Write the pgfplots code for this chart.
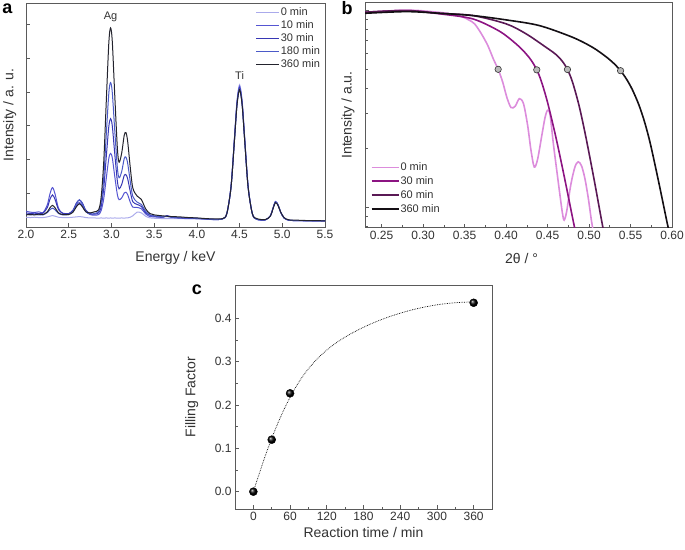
\documentclass[border=0pt]{standalone}
\usepackage{fontspec}
\setmainfont{Liberation Sans}
\usepackage{pgfplots}
\usepackage{pgfplotstable}
\pgfplotsset{compat=1.18}

\definecolor{c0}{RGB}{170,170,235}
\definecolor{c10}{RGB}{85,85,210}
\definecolor{c30}{RGB}{55,55,180}
\definecolor{c180}{RGB}{75,90,200}
\definecolor{c360}{RGB}{35,35,45}
\definecolor{p0}{RGB}{220,140,220}
\definecolor{p30}{RGB}{140,20,130}
\definecolor{p60}{RGB}{90,25,85}
\definecolor{p360}{RGB}{20,15,20}
\definecolor{axgray}{RGB}{90,90,90}
\definecolor{txt}{RGB}{50,50,50}

% EDX spectra
\pgfplotstableread{
x     c0    c10   c30   c180  c360
2.00  0.29  0.47  0.42  0.38  0.36
2.05  0.28  0.44  0.40  0.36  0.37
2.10  0.29  0.43  0.41  0.37  0.36
2.15  0.28  0.45  0.40  0.36  0.38
2.20  0.28  0.43  0.41  0.36  0.37
2.25  0.30  0.66  0.58  0.43  0.45
2.28  0.32  0.98  0.82  0.51  0.57
2.31  0.34  1.17  0.95  0.56  0.64
2.34  0.32  0.98  0.82  0.51  0.57
2.38  0.29  0.56  0.52  0.40  0.42
2.43  0.28  0.40  0.41  0.36  0.37
2.50  0.28  0.39  0.40  0.37  0.37
2.55  0.29  0.47  0.50  0.47  0.44
2.59  0.30  0.64  0.71  0.69  0.60
2.625 0.31  0.73  0.80  0.81  0.69
2.66  0.30  0.64  0.71  0.69  0.60
2.70  0.28  0.46  0.50  0.47  0.45
2.75  0.27  0.37  0.40  0.38  0.42
2.80  0.27  0.35  0.38  0.40  0.45
2.85  0.26  0.37  0.42  0.46  0.51
2.88  0.27  0.49  0.61  0.73  0.89
2.91  0.26  0.84  1.15  1.46  1.93
2.94  0.27  1.45  2.09  2.75  3.74
2.97  0.26  2.04  2.99  3.98  5.48
2.99  0.27  2.18  3.21  4.28  5.90
3.01  0.26  2.05  3.00  3.99  5.50
3.04  0.27  1.48  2.14  2.82  3.85
3.07  0.26  0.95  1.35  1.74  2.32
3.09  0.26  0.81  1.13  1.46  1.92
3.12  0.27  0.86  1.26  1.64  2.19
3.15  0.26  1.01  1.53  2.03  2.72
3.17  0.27  1.03  1.55  2.07  2.80
3.19  0.27  0.96  1.43  1.89  2.54
3.22  0.29  0.74  1.06  1.36  1.78
3.25  0.33  0.59  0.75  0.91  1.16
3.30  0.44  0.58  0.67  0.74  0.92
3.35  0.42  0.54  0.61  0.67  0.82
3.40  0.32  0.39  0.43  0.47  0.54
3.45  0.27  0.31  0.35  0.36  0.40
3.50  0.26  0.30  0.32  0.33  0.36
3.60  0.25  0.29  0.29  0.30  0.33
3.65  0.25  0.34  0.33  0.31  0.32
3.70  0.25  0.30  0.29  0.29  0.31
3.80  0.25  0.27  0.27  0.27  0.30
3.90  0.24  0.26  0.26  0.27  0.28
4.00  0.24  0.25  0.26  0.25  0.27
4.10  0.23  0.24  0.24  0.24  0.25
4.20  0.22  0.22  0.23  0.22  0.24
4.30  0.24  0.24  0.24  0.24  0.25
4.35  0.40  0.39  0.39  0.39  0.39
4.40  1.22  1.20  1.19  1.18  1.18
4.44  2.65  2.62  2.59  2.57  2.56
4.47  3.75  3.70  3.66  3.63  3.62
4.50  4.22  4.17  4.12  4.09  4.07
4.53  3.75  3.70  3.66  3.63  3.62
4.56  2.65  2.62  2.59  2.57  2.56
4.60  1.22  1.20  1.19  1.18  1.18
4.65  0.40  0.39  0.39  0.39  0.39
4.70  0.24  0.23  0.23  0.23  0.25
4.80  0.21  0.21  0.21  0.21  0.22
4.86  0.33  0.33  0.33  0.33  0.32
4.89  0.55  0.55  0.55  0.54  0.53
4.92  0.76  0.75  0.75  0.74  0.72
4.95  0.66  0.66  0.65  0.65  0.64
4.98  0.45  0.45  0.45  0.44  0.45
5.02  0.27  0.27  0.27  0.27  0.28
5.08  0.20  0.20  0.20  0.20  0.21
5.20  0.19  0.19  0.19  0.19  0.20
5.30  0.19  0.18  0.19  0.18  0.19
5.40  0.18  0.18  0.18  0.18  0.19
5.50  0.18  0.18  0.18  0.18  0.18
}\edx

\pgfplotsset{
  panel/.style={
    scale only axis,
    axis line style={axgray, line width=0.8pt},
    tick style={axgray, line width=0.6pt},
    tick align=inside,
    tick pos=left,
    major tick length=4pt,
    minor tick length=2.5pt,
    tick label style={font=\fontsize{12}{12}\selectfont, text=txt},
    label style={font=\fontsize{14}{14}\selectfont, text=txt},
    /pgf/number format/assume math mode=true,
    legend cell align=left,
  },
}

\begin{document}
\begin{tikzpicture}
\useasboundingbox (0,0) rectangle (685pt,-549pt);

% ---- a: EDX
\begin{axis}[panel,
  at={(26pt,-227pt)}, anchor=south west,
  width=299pt, height=224pt,
  xmin=2, xmax=5.5, ymin=0, ymax=6.64,
  xtick={2,2.5,...,5.5},
  xticklabel style={/pgf/number format/.cd, fixed, fixed zerofill, precision=1},
  ytick={0,...,6}, yticklabel=\empty,
  xlabel={Energy / keV},
  ylabel={Intensity / a. u.},
  xlabel style={at={(axis description cs:0.5,-0.138)}, anchor=center},
  ylabel style={at={(axis description cs:-0.054,0.5)}, anchor=center},
  legend image code/.code={\draw[#1] (0pt,0pt) -- (23pt,0pt);},
  legend style={at={(axis description cs:0.768,0.986)}, anchor=north west,
    draw=none, fill=none, inner sep=0pt, row sep=0.6pt,
    font=\fontsize{11}{11}\selectfont, text=txt,
    nodes={inner sep=1pt, text height=8pt, text depth=2.5pt}},
]
\addplot[c0, line width=1pt, smooth] table[x=x, y=c0] {\edx};
\addlegendentry{0 min}
\addplot[c10, line width=1pt, smooth] table[x=x, y=c10] {\edx};
\addlegendentry{10 min}
\addplot[c30, line width=1pt, smooth] table[x=x, y=c30] {\edx};
\addlegendentry{30 min}
\addplot[c180, line width=1pt, smooth] table[x=x, y=c180] {\edx};
\addlegendentry{180 min}
\addplot[c360, line width=1pt, smooth] table[x=x, y=c360] {\edx};
\addlegendentry{360 min}
\node[font=\fontsize{11}{11}\selectfont, text=txt] at (axis cs:2.99,6.22) {Ag};
\node[font=\fontsize{11}{11}\selectfont, text=txt] at (axis cs:4.5,4.5) {Ti};
\end{axis}

% ---- b: reflectivity
\begin{axis}[panel,
  at={(365pt,-227.5pt)}, anchor=south west,
  width=307pt, height=225pt,
  xmin=0.23, xmax=0.60, ymode=log, ymin=0.79, ymax=10.9,
  xtick={0.25,0.30,...,0.61}, minor x tick num=1,
  xticklabel style={/pgf/number format/.cd, fixed, fixed zerofill, precision=2},
  yticklabel=\empty,
  xlabel={2θ / °},
  ylabel={Intensity / a.u.},
  xlabel style={at={(axis description cs:0.51,-0.138)}, anchor=center},
  ylabel style={at={(axis description cs:-0.055,0.5)}, anchor=center},
  legend image code/.code={\draw[#1] (0pt,0pt) -- (27pt,0pt);},
  legend style={at={(axis description cs:0.0186,0.297)}, anchor=north west,
    draw=none, fill=none, inner sep=0pt, row sep=0.9pt,
    font=\fontsize{11}{11}\selectfont, text=txt,
    nodes={inner sep=1pt, text height=8.5pt, text depth=2.5pt}},
]
\addplot[p0, line width=1.6pt, smooth] coordinates {
(0.230,9.6) (0.250,9.8) (0.270,9.95) (0.290,9.95) (0.310,9.8) (0.330,9.6)
(0.345,9.3) (0.355,8.9) (0.362,8.5) (0.370,7.6) (0.378,6.6) (0.385,5.6)
(0.3905,5.0) (0.396,4.3) (0.401,3.6) (0.406,3.2) (0.411,3.25) (0.416,3.55)
(0.421,3.35) (0.426,2.6) (0.430,1.95) (0.434,1.6) (0.438,1.75) (0.443,2.3)
(0.447,2.85) (0.450,3.1) (0.453,2.95) (0.457,2.1) (0.461,1.55) (0.465,1.15)
(0.468,0.93) (0.470,0.86) (0.473,0.95) (0.478,1.3) (0.483,1.6) (0.487,1.70)
(0.491,1.62) (0.495,1.40) (0.499,1.12) (0.503,0.85) (0.506,0.72)};
\addlegendentry{0 min}
\addplot[p30, line width=1.6pt, smooth] coordinates {
(0.230,9.73) (0.280,9.92) (0.320,9.55) (0.360,9.0) (0.392,7.8) (0.412,6.73)
(0.424,6.0) (0.431,5.50) (0.437,4.97) (0.4425,4.35) (0.450,3.40)
(0.460,2.27) (0.470,1.44) (0.481,0.85) (0.484,0.74)};
\addlegendentry{30 min}
\addplot[p60, line width=1.6pt, smooth] coordinates {
(0.230,9.73) (0.280,9.92) (0.320,9.61) (0.360,9.36) (0.400,8.5) (0.424,7.57)
(0.448,6.47) (0.460,5.95) (0.468,5.48) (0.474,4.99) (0.480,4.32)
(0.488,3.27) (0.496,2.29) (0.506,1.39) (0.514,0.91) (0.518,0.74)};
\addlegendentry{60 min}
\addplot[p360, line width=1.6pt, smooth] coordinates {
(0.230,9.61) (0.280,9.8) (0.320,9.61) (0.360,9.36) (0.400,8.9) (0.440,8.33)
(0.480,7.27) (0.504,6.47) (0.520,5.81) (0.530,5.35) (0.538,4.92) (0.545,4.47)
(0.552,3.96) (0.560,3.31) (0.567,2.70) (0.574,2.09) (0.584,1.34) (0.594,0.84)
(0.597,0.74)};
\addlegendentry{360 min}
\addplot[only marks, mark=*, mark size=3.2pt,
  mark options={fill=gray!55, draw=black!80, line width=0.6pt}, forget plot]
  coordinates {(0.3905,5) (0.437,4.97) (0.474,4.99) (0.538,4.92)};
\end{axis}

% ---- c: filling factor
\begin{axis}[panel,
  at={(235pt,-509pt)}, anchor=south west,
  width=257pt, height=224pt,
  xmin=-30, xmax=390, ymin=-0.04, ymax=0.477,
  xtick={0,60,...,360}, minor x tick num=1,
  ytick={0,0.1,...,0.41}, minor y tick num=1,
  yticklabel style={/pgf/number format/.cd, fixed, fixed zerofill, precision=1},
  xlabel={Reaction time / min},
  ylabel={Filling Factor},
  xlabel style={at={(axis description cs:0.5,-0.107)}, anchor=center},
  ylabel style={at={(axis description cs:-0.168,0.5)}, anchor=center},
]
\addplot[black, densely dotted, line width=0.7pt, smooth] coordinates {
(0,0) (20,0.085) (40,0.158) (60,0.218) (80,0.265) (100,0.300) (120,0.327)
(140,0.348) (160,0.365) (180,0.3795) (200,0.392) (220,0.4028) (240,0.412)
(260,0.4198) (280,0.4262) (300,0.4312) (320,0.4348) (340,0.437) (360,0.438)};
\addplot[only marks, mark=ball, mark size=4pt, mark options={ball color=black}]
  coordinates {(0,0.0) (30,0.12) (60,0.227) (360,0.436)};
\end{axis}

\node[font=\bfseries\fontsize{18}{18}\selectfont, text=black] at (7.5pt,-9pt) {a};
\node[font=\bfseries\fontsize{18}{18}\selectfont, text=black] at (347pt,-8.5pt) {b};
\node[font=\bfseries\fontsize{18}{18}\selectfont, text=black] at (197pt,-290pt) {c};
\end{tikzpicture}
\end{document}
